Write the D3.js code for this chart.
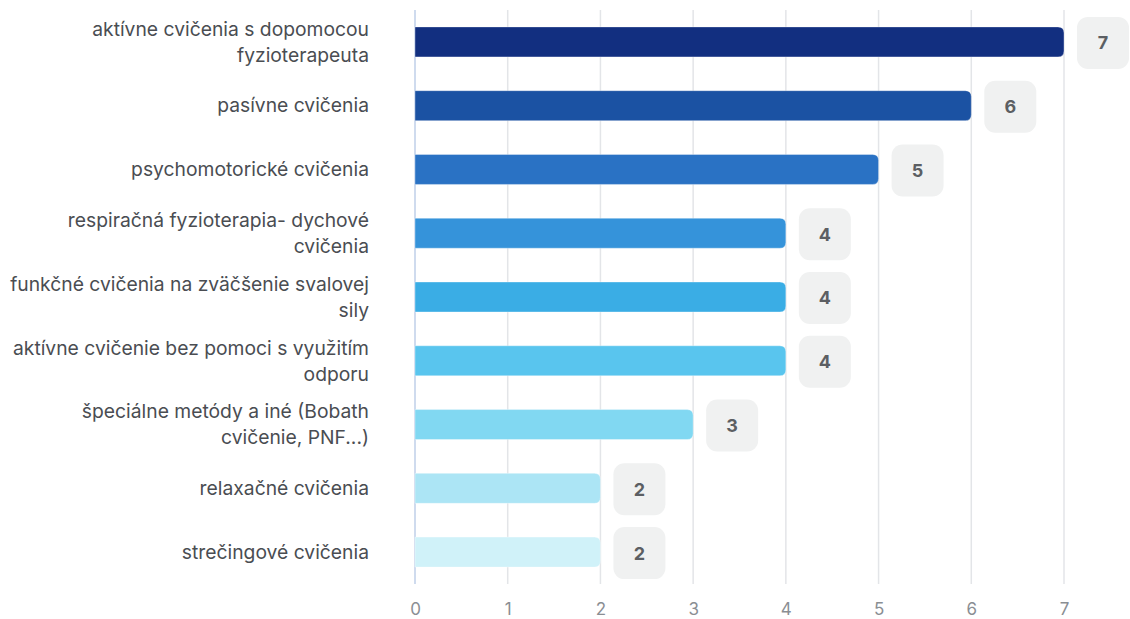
<!DOCTYPE html>
<html><head><meta charset="utf-8">
<script src="https://cdn.jsdelivr.net/npm/d3@7"></script>
<style>body{margin:0;background:#fff}svg{display:block;font-family:Inter,"Noto Sans",sans-serif}</style>
</head><body><svg id="c" width="1130" height="619"></svg>
<script>
const categories = [
  "aktívne cvičenia s dopomocou fyzioterapeuta",
  "pasívne cvičenia",
  "psychomotorické cvičenia",
  "respiračná fyzioterapia- dychové cvičenia",
  "funkčné cvičenia na zväčšenie svalovej sily",
  "aktívne cvičenie bez pomoci s využitím odporu",
  "špeciálne metódy a iné (Bobath cvičenie, PNF...)",
  "relaxačné cvičenia",
  "strečingové cvičenia"
];
const values = [7, 6, 5, 4, 4, 4, 3, 2, 2];
const colors = ["#122f80","#1b52a3","#2a72c4","#3593da","#3aade5","#59c5ee","#81d8f2","#ace5f5","#d0f2f9"];
const tickValues = [0,1,2,3,4,5,6,7];

(function(){
const svg = d3.select("#c");
const pLeft = 415, pRight = 1064, pTop = 10, pBottom = 584;
const x = d3.scaleLinear().domain([0,7]).range([pLeft,pRight]);
const y = d3.scaleBand().domain(categories).range([pTop,pBottom]).paddingInner(0.53).paddingOuter(0.265);

// grid
svg.append("g").selectAll("line").data(tickValues).join("line")
  .attr("x1", d=>x(d)).attr("x2", d=>x(d)).attr("y1", pTop).attr("y2", pBottom)
  .attr("stroke", d=> d===0 ? "#cfdbee" : "#e3e5e8").attr("stroke-width", d=>d===0?2:1.5);

// x tick labels
const xa = svg.append("g").attr("transform",`translate(0,${pBottom})`)
  .call(d3.axisBottom(x).tickValues(tickValues).tickSize(0).tickPadding(19).tickFormat(d3.format("d")));
xa.select(".domain").remove();
xa.selectAll("text").attr("font-size",17).attr("fill","#8a8e93").attr("font-family","Inter, sans-serif");

// bars with rounded right end
const r = 6;
function barPath(d,i){
  const x0 = x(0), x1 = x(values[i]), y0 = y(d), h = y.bandwidth();
  return `M${x0},${y0}H${x1-r}Q${x1},${y0} ${x1},${y0+r}V${y0+h-r}Q${x1},${y0+h} ${x1-r},${y0+h}H${x0}Z`;
}
svg.append("g").selectAll("path").data(categories).join("path")
  .attr("d", barPath).attr("fill",(d,i)=>colors[i])
  .attr("stroke","rgba(255,255,255,0.35)").attr("stroke-width",1);

// value boxes
const bw = 52;
const vb = svg.append("g").selectAll("g").data(categories).join("g")
  .attr("transform",(d,i)=>`translate(${x(values[i])+13},${y(d)+y.bandwidth()/2+1-bw/2})`);
vb.append("rect").attr("width",bw).attr("height",bw).attr("rx",11).attr("fill","#f0f1f1");
vb.append("text").attr("x",bw/2).attr("y",bw/2).attr("dy","0.36em").attr("text-anchor","middle")
  .attr("font-size",18).attr("font-weight",700).attr("fill","#5c5f63").text((d,i)=>values[i]);

// category labels with wrapping
const maxW = 362, lh = 26;
const lab = svg.append("g").selectAll("text").data(categories).join("text")
  .attr("text-anchor","end").attr("font-size",19.3).attr("fill","#4a4d52");
lab.each(function(d){
  const t = d3.select(this);
  const words = d.split(" ");
  const lines = [];
  let cur = "";
  const probe = t.append("tspan");
  for (const w of words){
    const test = cur ? cur+" "+w : w;
    probe.text(test);
    if (probe.node().getComputedTextLength() > maxW && cur){ lines.push(cur); cur = w; }
    else cur = test;
  }
  lines.push(cur);
  probe.remove();
  const cy = y(d)+y.bandwidth()/2;
  const startY = cy - (lines.length-1)*lh/2;
  lines.forEach((ln,k)=>{
    t.append("tspan").attr("x",369).attr("y",startY+k*lh).attr("dy","0.35em").text(ln);
  });
});
})();
</script></body></html>
